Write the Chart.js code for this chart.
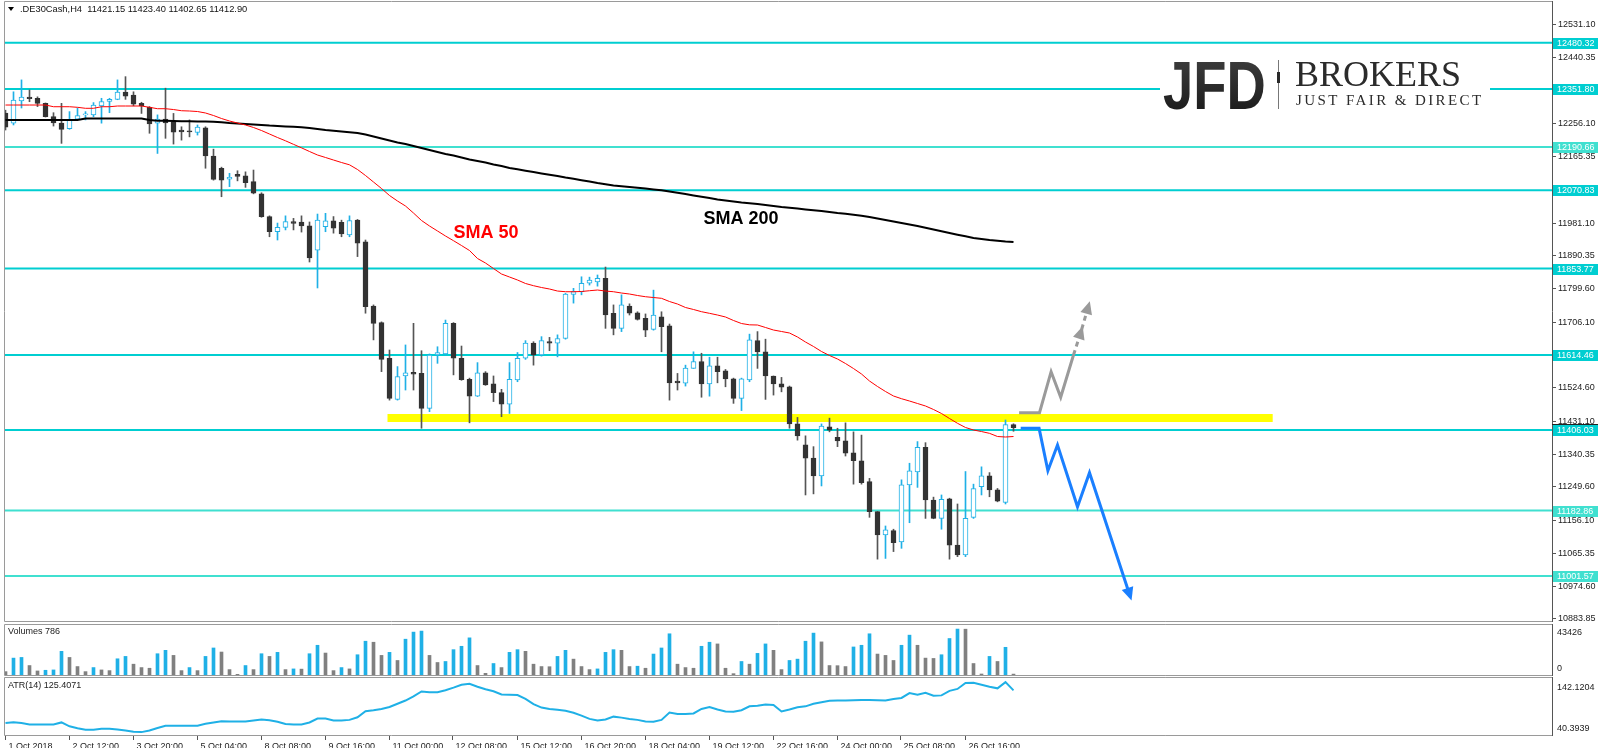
<!DOCTYPE html>
<html><head><meta charset="utf-8">
<script src="https://cdn.jsdelivr.net/npm/chart.js@4.4.0/dist/chart.umd.min.js"></script>
<style>
html,body{margin:0;padding:0;background:#fff;overflow:hidden;}
#wrap{position:relative;width:1598px;height:748px;background:#fff;}
canvas{position:absolute;left:0;}
</style></head><body>
<div id="wrap">
<canvas id="cMain" width="1598" height="623" style="top:0px"></canvas>
<canvas id="cVol" width="1598" height="53" style="top:623px"></canvas>
<canvas id="cAtr" width="1598" height="72" style="top:676px"></canvas>
</div>
<script>
// ---------------- DATA ----------------
const symbol = '.DE30Cash,H4';
const opens = [12285,12257,12319,12329,12326,12312,12275,12257,12242,12268,12280,12280,12305,12317,12323,12343,12335,12312,12301,12257,12268,12261,12238,12235,12231,12244,12166,12132,12102,12115,12111,12095,12061,11998,11956,11968,11984,11983,11972,11905,11970,11986,11982,11947,11988,11928,11750,11704,11605,11491,11556,11566,11563,11466,11614,11617,11702,11605,11547,11500,11565,11534,11510,11478,11545,11605,11647,11614,11651,11647,11660,11782,11790,11813,11817,11827,11730,11688,11750,11731,11716,11685,11720,11695,11542,11536,11577,11596,11534,11584,11570,11548,11494,11545,11654,11623,11556,11534,11526,11423,11365,11328,11279,11415,11386,11376,11343,11321,11263,11180,11115,11127,11096,11254,11290,11358,11212,11161,11215,11087,11060,11164,11249,11279,11240,11205,11421.15];
const highs = [12293,12344,12377,12349,12330,12313,12286,12312,12289,12299,12289,12314,12326,12326,12377,12386,12344,12315,12303,12280,12354,12284,12247,12266,12252,12247,12185,12135,12118,12125,12122,12127,12064,12000,11980,12000,11993,12000,11983,12005,12007,11998,11988,12000,11990,11933,11753,11706,11628,11582,11642,11702,11626,11617,11637,11711,11704,11639,11550,11593,11568,11556,11519,11593,11621,11654,11651,11665,11663,11670,11785,11799,11831,11830,11836,11858,11753,11781,11756,11734,11728,11794,11734,11700,11563,11586,11623,11619,11608,11608,11574,11550,11550,11672,11679,11658,11556,11552,11528,11441,11390,11360,11423,11439,11411,11426,11401,11392,11272,11180,11140,11131,11268,11314,11374,11371,11220,11226,11217,11201,11291,11256,11304,11288,11244,11434,11423.40];
const lows = [12238,12252,12299,12316.5,12303,12274,12249,12201,12240,12266,12266,12275,12257,12286,12322,12323,12305,12284,12229,12173,12215,12199,12210,12219,12224,12132,12099,12053,12081,12097,12079,12061,11996,11942,11933,11961,11961,11955,11872,11800,11956,11952,11942,11942,11887,11730,11656,11568,11489,11489,11517,11517,11411,11457,11591,11614,11559,11544,11426,11499,11530,11485,11443,11452,11540,11602,11586,11611,11626,11609,11658,11758,11781,11808,11805,11688,11670,11679,11725,11711,11665,11683,11623,11489,11517,11528,11577,11497,11500,11537,11526,11480,11460,11540,11577,11491,11503,11512,11411,11378,11226,11229,11251,11401,11360,11334,11256,11256,11164,11048,11050,11069,11078,11149,11247,11161,11160,11131,11048,11055,11055,11161,11226,11221,11207,11201,11402.65];
const closes = [12246,12321,12329,12325,12312,12275,12258,12240,12266,12278,12282,12307,12317,12323,12343,12332,12310,12305,12255,12268,12258,12232,12233,12233,12246,12166,12101,12099,12107,12109,12092,12063,11998,11956,11968,11984,11979,11972,11883,11988,11986,11966,11950,11987,11924,11748,11702,11602,11494,11554,11565,11561,11466,11614,11621,11702,11605,11546,11500,11565,11531,11510,11478,11547,11605,11647,11614,11654,11647,11660,11783,11790,11813,11822,11827,11725,11688,11753,11730,11713,11683,11725,11693,11537,11537,11578,11596,11534,11584,11568,11548,11494,11548,11656,11623,11556,11534,11525,11423,11390,11328,11279,11417,11406,11376,11342,11321,11260,11180,11115,11129,11094,11254,11293,11358,11212,11161,11214,11087,11060,11161,11244,11279,11240,11209,11421,11412.90];
const sma50 = [12307.3,12307.3,12307.3,12307.3,12307.3,12307.3,12302.6,12302.6,12302.6,12301.0,12298.2,12298.2,12302.6,12302.6,12304.6,12304.6,12304.6,12304.6,12301.0,12297.1,12297.1,12294.8,12291.5,12290.7,12289.3,12285.2,12278.2,12269.9,12263.0,12257.4,12251.9,12245.0,12236.6,12226.9,12217.2,12208.1,12198.3,12188.6,12178.4,12168.7,12161.8,12154.8,12147.9,12141.5,12128.5,12111.8,12093.8,12075.8,12056.4,12041.1,12027.3,12007.8,11987.1,11971.8,11958.0,11944.1,11931.1,11917.7,11903.9,11881.7,11869.2,11853.9,11838.7,11830.4,11822.1,11812.4,11806.3,11801.3,11797.1,11791.5,11789.6,11789.6,11790.2,11792.4,11794.3,11791.5,11789.6,11786.0,11783.2,11779.1,11775.7,11773.5,11771.3,11762.4,11755.5,11745.8,11740.3,11734.2,11729.7,11725.0,11719.5,11709.8,11701.4,11697.8,11697.3,11690.4,11683.4,11679.3,11675.1,11664.0,11650.1,11637.7,11623.8,11612.7,11603.0,11590.5,11576.6,11561.4,11542.0,11526.8,11512.9,11500.4,11492.9,11486.5,11479.6,11472.7,11463.0,11451.9,11438.0,11424.7,11413.1,11406.1,11401.9,11396.9,11388.1,11386.7,11388.1];
const sma200 = [12265.7,12265.7,12265.7,12265.7,12265.7,12265.7,12265.7,12265.7,12265.7,12265.7,12269.9,12269.9,12269.9,12269.9,12269.9,12269.9,12269.9,12269.9,12265.7,12264.0,12263.5,12263.0,12262.5,12262.0,12261.8,12261.5,12261.0,12259.4,12257.4,12256.0,12254.6,12253.3,12251.9,12250.2,12249.1,12248.0,12246.9,12245.8,12243.6,12240.8,12238.0,12235.8,12233.9,12231.9,12229.7,12225.5,12220.0,12214.4,12208.9,12203.3,12199.2,12193.6,12188.1,12182.6,12177.0,12171.5,12167.3,12161.8,12156.2,12152.1,12147.9,12142.4,12138.2,12132.6,12129.0,12125.2,12121.5,12117.7,12114.1,12110.5,12106.3,12102.7,12098.8,12095.2,12091.0,12087.4,12084.1,12081.9,12080.0,12077.7,12075.5,12073.0,12070.8,12067.5,12063.9,12060.5,12056.4,12052.8,12049.4,12045.3,12042.5,12039.7,12037.0,12034.8,12032.8,12030.0,12027.3,12024.5,12022.3,12020.1,12017.8,12015.6,12013.4,12010.6,12007.8,12005.6,12002.9,12000.4,11996.8,11992.6,11988.4,11984.3,11980.1,11976.0,11971.8,11966.8,11962.1,11957.4,11952.4,11947.7,11943.3,11938.5,11935.8,11933.0,11930.8,11928.8,11927.4];
const volumes = [2930,14670,15260,8220,3520,4110,4400,20540,15260,7340,2930,6460,4400,3810,14080,16140,9390,6460,5870,18480,21420,17020,3810,6460,3810,16140,23470,19950,4690,590,8220,4690,18480,16140,19660,4690,5280,5100,18480,25820,19070,3810,6460,5280,17600,29340,28460,17020,19660,12620,31100,37260,38140,17020,10860,11740,22010,24940,32270,8220,1470,9980,6460,19660,22010,20540,9390,7340,7200,16140,21420,13790,7340,4690,5280,19660,22010,21420,7340,7630,5870,18190,23470,35800,9390,6460,5870,24940,28460,26990,5870,1170,11740,9390,18780,26990,21420,4690,12620,13790,29340,36380,28750,8220,8100,7340,24350,25820,35800,18190,17020,12620,25820,34620,25820,14670,14380,17600,31690,39900,39800,9980,880,16140,11740,24060,786];
const atr14 = [58.8,60.7,58.8,56.1,56.1,56.1,56.1,60.1,52.2,48.3,45.0,45.0,47.0,47.0,45.6,43.7,41.0,40.3939,43.7,48.9,53.5,53.5,53.5,53.5,53.5,57.5,60.1,62.7,62.0,62.0,62.0,64.0,66.0,64.7,61.4,56.8,56.1,56.1,60.1,68.0,68.0,64.0,64.0,65.3,70.6,83.1,85.0,87.6,91.6,98.1,104.7,113.2,123.1,121.8,121.8,125.7,131.0,136.9,138.8,132.9,127.7,123.7,117.2,116.5,115.9,108.0,97.5,90.3,87.6,85.7,83.7,79.8,73.9,67.3,64.0,66.0,71.9,69.9,67.3,65.3,62.0,61.4,65.3,80.4,77.1,77.1,78.5,87.6,91.6,86.3,82.4,81.7,85.0,92.9,94.2,96.8,95.5,82.4,86.3,90.9,92.9,98.1,101.4,104.1,104.7,104.7,105.4,106.0,106.0,105.4,104.7,108.0,110.0,119.8,116.5,120.4,114.6,115.2,124.4,128.3,140.5,141.0,136.9,132.9,129.6,142.1204,125.4071];
const timeLabels = ['1 Oct 2018','2 Oct 12:00','3 Oct 20:00','5 Oct 04:00','8 Oct 08:00','9 Oct 16:00','11 Oct 00:00','12 Oct 08:00','15 Oct 12:00','16 Oct 20:00','18 Oct 04:00','19 Oct 12:00','22 Oct 16:00','24 Oct 00:00','25 Oct 08:00','26 Oct 16:00'];
const barsPerLabel = 8;
const priceTicks = [12531.10,12440.35,12256.10,12165.35,11981.10,11890.35,11799.60,11706.10,11524.60,11431.10,11340.35,11249.60,11156.10,11065.35,10974.60,10883.85];
const levels = [12480.32,12351.80,12190.66,12070.83,11853.77,11614.46,11406.03,11182.86,11001.57];
const lightLevels = [12190.66,11182.86,11001.57];
const volTicks = [43426, 0];
const atrTicks = [142.1204, 40.3939];
const band = {price: 11439.5, from: 47.75, to: 158.4};
const upPathX = [126.7,129.25,130.7,131.9,133.5];
const upPathY = [11454.1,11454.1,11567.8,11496.8,11614.1];
const upDashX = [133.5,134.5,135.4];
const upDashY = [11614.1,11683.4,11752.7];
const downPathX = [126.9,129.2,130.3,131.5,134.0,135.5,140.6];
const downPathY = [11410.8,11410.8,11293.2,11364.5,11193.4,11287.7,10943.9];
const notes = [{text:'SMA 50', x:56, y:11952, color:'#FF0000'},{text:'SMA 200', x:87.25, y:11991, color:'#000000'}];

// ---------------- STYLE ----------------
const BLUE = '#1FB0E6', DARK = '#333333', WICKD = '#555555', GRAYV = '#808080';
const CYAN = '#00CED1', CYANL = '#40E0D0';
const FONT = '"Liberation Sans", Arial, sans-serif';
const xMin = -0.1875, xMax = 193.3125;
const AXIS_X = 1552;
const idx = opens.map((_, i) => i);
const bull = idx.map(i => closes[i] >= opens[i]);
const pts = (xs, ys) => xs.map((x, i) => ({x, y: ys[i]}));

const xScale = () => ({type:'linear', min:xMin, max:xMax, display:false, offset:false});
const baseOpts = (pad, ymin, ymax) => ({
  responsive:false, animation:false, events:[],
  layout:{padding:pad},
  scales:{x:xScale(), y:{type:'linear', min:ymin, max:ymax, display:false}},
  plugins:{legend:{display:false}, tooltip:{enabled:false}}
});

const framePlugin = {
  id:'frame',
  afterDraw(chart){
    const {ctx, chartArea:a} = chart;
    ctx.save();
    ctx.lineWidth = 1;
    ctx.strokeStyle = '#9a9a9a';
    ctx.beginPath();
    ctx.moveTo(a.left+0.5, a.top-0.5); ctx.lineTo(a.right, a.top-0.5);
    ctx.moveTo(a.left+0.5, a.bottom+0.5); ctx.lineTo(a.right, a.bottom+0.5);
    ctx.moveTo(a.left+0.5, a.top-0.5); ctx.lineTo(a.left+0.5, a.bottom+0.5);
    ctx.stroke();
    ctx.strokeStyle = '#555';
    ctx.beginPath();
    ctx.moveTo(a.right+0.5, a.top-1); ctx.lineTo(a.right+0.5, a.bottom+1);
    ctx.stroke();
    ctx.restore();
  }
};

const arrowPlugin = {
  id:'arrows',
  afterDatasetsDraw(chart){
    const ctx = chart.ctx;
    chart.data.datasets.forEach((ds, di) => {
      if (!ds.arrowAt) return;
      const el = chart.getDatasetMeta(di).data;
      ds.arrowAt.forEach(k => {
        const p = el[k], q = el[k-1];
        const ang = Math.atan2(p.y - q.y, p.x - q.x);
        ctx.save();
        ctx.translate(p.x, p.y); ctx.rotate(ang);
        ctx.fillStyle = ds.borderColor;
        ctx.beginPath();
        ctx.moveTo(4, 0); ctx.lineTo(-9, -6); ctx.lineTo(-9, 6); ctx.closePath();
        ctx.fill();
        ctx.restore();
      });
    });
  }
};

const mainDecor = {
  id:'mainDecor',
  afterDraw(chart){
    const {ctx, scales:{x, y}} = chart;
    ctx.save();
    // notes
    ctx.font = 'bold 18px ' + FONT; ctx.textBaseline = 'middle'; ctx.textAlign = 'left';
    notes.forEach(n => { ctx.fillStyle = n.color; ctx.fillText(n.text, x.getPixelForValue(n.x), y.getPixelForValue(n.y)); });
    // header
    ctx.fillStyle = '#000';
    ctx.beginPath(); ctx.moveTo(8, 7); ctx.lineTo(14, 7); ctx.lineTo(11, 11); ctx.closePath(); ctx.fill();
    ctx.font = '9.3px ' + FONT; ctx.fillStyle = '#111'; ctx.textBaseline = 'middle';
    const n = opens.length - 1;
    ctx.fillText(symbol + '  ' + [opens[n], highs[n], lows[n], closes[n]].map(v => v.toFixed(2)).join(' '), 20, 9.5);
    // price ticks
    ctx.font = '9px ' + FONT;
    priceTicks.forEach(v => {
      const py = Math.round(y.getPixelForValue(v)) + 0.5;
      ctx.strokeStyle = '#555'; ctx.lineWidth = 1;
      ctx.beginPath(); ctx.moveTo(AXIS_X, py); ctx.lineTo(AXIS_X+4, py); ctx.stroke();
      ctx.fillStyle = '#222'; ctx.fillText(v.toFixed(2), AXIS_X+6, py);
    });
    // last high marker line on axis
    const hy = Math.round(y.getPixelForValue(highs[n])) + 0.5;
    ctx.strokeStyle = '#222'; ctx.beginPath(); ctx.moveTo(AXIS_X, hy); ctx.lineTo(1598, hy); ctx.stroke();
    // level boxes
    levels.forEach(v => {
      const py = Math.round(y.getPixelForValue(v));
      ctx.fillStyle = lightLevels.includes(v) ? CYANL : CYAN;
      ctx.fillRect(AXIS_X+1, py-5, 46, 11);
      ctx.fillStyle = '#fff'; ctx.fillText(v.toFixed(2), AXIS_X+5, py+0.5);
    });
    // logo
    ctx.fillStyle = '#fff'; ctx.fillRect(1160, 54, 330, 60);
    ctx.save();
    ctx.translate(1163, 109); ctx.scale(0.80, 1);
    const g = ctx.createLinearGradient(0, -50, 0, 0); g.addColorStop(0, '#3c3c3c'); g.addColorStop(1, '#1e1e1e');
    ctx.fillStyle = g; ctx.font = 'bold 68px ' + FONT; ctx.textBaseline = 'alphabetic';
    ctx.fillText('JFD', 0, 0);
    ctx.restore();
    ctx.fillStyle = '#777'; ctx.fillRect(1278, 60, 1, 49);
    ctx.fillStyle = '#2a2a2a'; ctx.fillRect(1277, 72, 3, 11);
    ctx.fillStyle = '#2b2b2b'; ctx.textBaseline = 'alphabetic';
    ctx.font = '36px "Liberation Serif", "Times New Roman", serif';
    ctx.fillText('BROKERS', 1295, 86);
    ctx.font = '15px "Liberation Serif", "Times New Roman", serif';
    ctx.letterSpacing = '2.4px';
    ctx.fillText('JUST FAIR & DIRECT', 1296, 105);
    ctx.restore();
  }
};

// ---------------- MAIN CHART ----------------
const mainSets = [];
levels.forEach(v => mainSets.push({type:'line', data:[{x:xMin-1,y:v},{x:xMax+1,y:v}], borderColor: lightLevels.includes(v) ? CYANL : CYAN, borderWidth:2, pointRadius:0, order:20}));
mainSets.push({type:'line', data:[{x:band.from,y:band.price},{x:band.to,y:band.price}], borderColor:'#FFFF00', borderWidth:8, borderCapStyle:'butt', pointRadius:0, order:19});
mainSets.push({type:'line', data:pts(upPathX, upPathY), borderColor:'#9a9a9a', borderWidth:3, pointRadius:0, order:18, borderJoinStyle:'miter'});
mainSets.push({type:'line', data:pts(upDashX, upDashY), borderColor:'#9a9a9a', borderWidth:3, borderDash:[5,4], pointRadius:0, order:18, arrowAt:[1,2]});
mainSets.push({type:'line', data:pts(downPathX, downPathY), borderColor:'#1A7FFF', borderWidth:3, pointRadius:0, order:18, borderJoinStyle:'miter', arrowAt:[6]});
mainSets.push({type:'bar', data: idx.map(i => ({x:i, y:[lows[i], highs[i]]})), backgroundColor: idx.map(i => bull[i] ? BLUE : WICKD), borderWidth:0, barThickness:1, grouped:false, minBarLength:1, order:6});
mainSets.push({type:'bar', data: idx.map(i => ({x:i, y:[opens[i], closes[i]]})), backgroundColor: idx.map(i => bull[i] ? '#ffffff' : DARK), borderColor: idx.map(i => bull[i] ? BLUE : DARK), borderWidth:1, borderSkipped:false, barThickness:5, grouped:false, minBarLength:1, order:5});
mainSets.push({type:'line', data: idx.map(i => ({x:i, y:sma200[i]})), borderColor:'#000000', borderWidth:2, pointRadius:0, order:2});
mainSets.push({type:'line', data: idx.map(i => ({x:i, y:sma50[i]})), borderColor:'#FF0000', borderWidth:1, pointRadius:0, order:1});

new Chart(document.getElementById('cMain'), {
  type:'bar',
  data:{datasets:mainSets},
  options: baseOpts({left:4, right:46, top:2, bottom:2}, 10876.5, 12593),
  plugins:[framePlugin, arrowPlugin, mainDecor]
});

// ---------------- VOLUME ----------------
new Chart(document.getElementById('cVol'), {
  type:'bar',
  data:{datasets:[{data: idx.map(i => ({x:i, y:volumes[i]})), backgroundColor: idx.map(i => (i > 0 && volumes[i] > volumes[i-1]) ? BLUE : GRAYV), borderWidth:0, barThickness:3, grouped:false}]},
  options: baseOpts({left:4, right:46, top:2, bottom:1}, 0, 43426),
  plugins:[framePlugin, {
    id:'volText',
    afterDraw(chart){
      const {ctx, scales:{y}} = chart;
      ctx.save(); ctx.font = '9px ' + FONT; ctx.fillStyle = '#222'; ctx.textAlign = 'left';
      ctx.textBaseline = 'middle';
      ctx.fillText('Volumes ' + volumes[volumes.length-1], 8, 9);
      ctx.textBaseline = 'top'; ctx.fillText(String(volTicks[0]), AXIS_X+5, y.getPixelForValue(volTicks[0]) + 3);
      ctx.textBaseline = 'bottom'; ctx.fillText(String(volTicks[1]), AXIS_X+5, y.getPixelForValue(volTicks[1]) - 2);
      ctx.restore();
    }
  }]
});

// ---------------- ATR ----------------
new Chart(document.getElementById('cAtr'), {
  type:'line',
  data:{datasets:[{data: idx.map(i => ({x:i, y:atr14[i]})), borderColor:BLUE, borderWidth:2, pointRadius:0, tension:0}]},
  options: baseOpts({left:4, right:46, top:2, bottom:13}, 34.5, 150.6),
  plugins:[framePlugin, {
    id:'atrText',
    afterDraw(chart){
      const {ctx, scales:{x, y}, chartArea:a} = chart;
      ctx.save(); ctx.font = '9px ' + FONT; ctx.fillStyle = '#222'; ctx.textAlign = 'left';
      ctx.textBaseline = 'middle';
      ctx.fillText('ATR(14) ' + atr14[atr14.length-1].toFixed(4), 8, 10);
      ctx.textBaseline = 'top'; ctx.fillText(atrTicks[0].toFixed(4), AXIS_X+5, y.getPixelForValue(atrTicks[0]) + 1);
      ctx.textBaseline = 'bottom'; ctx.fillText(atrTicks[1].toFixed(4), AXIS_X+5, y.getPixelForValue(atrTicks[1]) + 1);
      // time axis
      ctx.strokeStyle = '#555'; ctx.lineWidth = 1; ctx.textBaseline = 'middle';
      timeLabels.forEach((t, k) => {
        const px = Math.round(x.getPixelForValue(k * barsPerLabel)) - 0.5;
        ctx.beginPath(); ctx.moveTo(px, a.bottom+1); ctx.lineTo(px, a.bottom+5); ctx.stroke();
        ctx.fillText(t, px + 3, a.bottom + 12);
      });
      ctx.restore();
    }
  }]
});
</script>
</body></html>
